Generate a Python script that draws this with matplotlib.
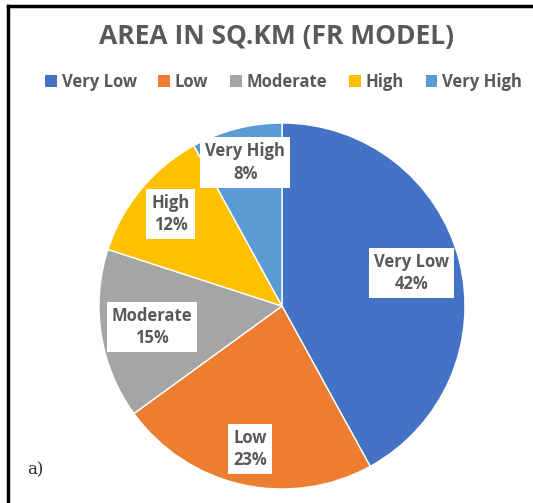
import matplotlib.pyplot as plt
import numpy as np
from matplotlib.patches import Patch

categories = ["Very Low", "Low", "Moderate", "High", "Very High"]
shares = [42, 23, 15, 12, 8]
colors = ["#4472C4", "#ED7D31", "#A5A5A5", "#FFC000", "#5B9BD5"]
# distance of each label box from the pie centre (fraction of radius)
label_dist = [0.73, 0.80, 0.72, 0.79, 0.81]

W, H = 533, 503
fig = plt.figure(figsize=(W / 100, H / 100), dpi=100)
ax = fig.add_axes([0, 0, 1, 1])

cx, cy, r = 282, H - 306, 183
wedges, _ = ax.pie(
    shares,
    colors=colors,
    startangle=90,
    counterclock=False,
    center=(cx, cy),
    radius=r,
    wedgeprops=dict(edgecolor="white", linewidth=1),
)

gray = "#595959"
for w, name, pct, d in zip(wedges, categories, shares, label_dist):
    ang = np.deg2rad((w.theta1 + w.theta2) / 2)
    ax.text(
        cx + d * r * np.cos(ang),
        cy + d * r * np.sin(ang),
        f"{name}\n{pct}%",
        ha="center",
        va="center",
        fontsize=12,
        fontweight="bold",
        color=gray,
        family="Open Sans",
        linespacing=1.3,
        bbox=dict(boxstyle="square,pad=0.3", fc="white", ec="none"),
    )

ax.set_xlim(0, W)
ax.set_ylim(0, H)
ax.set_aspect("auto")
ax.axis("off")

# title and legend
fig.text(0.518, 1 - 37 / H, "AREA IN SQ.KM (FR MODEL)", ha="center", va="center",
         fontsize=19, fontweight="bold", color=gray, family="Open Sans")
handles = [Patch(facecolor=c, edgecolor="none") for c in colors]
fig.legend(handles, categories, loc="center", bbox_to_anchor=(0.532, 1 - 82 / H),
           ncol=5, frameon=False, handlelength=0.7, handleheight=0.7,
           handletextpad=0.3, columnspacing=1.3,
           prop=dict(family="Open Sans", size=12, weight="bold"),
           labelcolor=gray)

fig.text(27 / W, 1 - 470 / H, "a)", ha="left", va="center", fontsize=12,
         family="DejaVu Serif", color="#222222")

# cropped frame: only the left and top edges show
fig.add_artist(plt.Line2D([8 / W, 8 / W], [0, 1 - 6 / H], color="black", lw=2.5))
fig.add_artist(plt.Line2D([8 / W, 1], [1 - 6 / H, 1 - 6 / H], color="black", lw=2.5))

fig.savefig("out.png", dpi=100)
